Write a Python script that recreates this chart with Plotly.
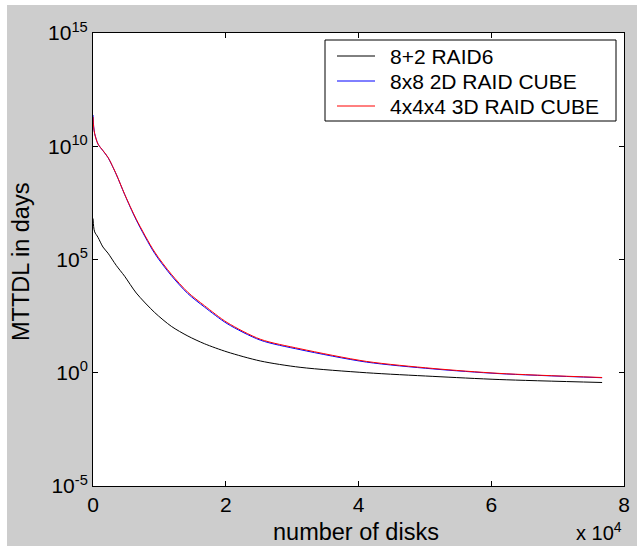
import plotly.graph_objects as go

# ---- data ----
num_disks = [0, 100, 250, 750, 1500, 2260, 3500, 4770, 6520, 9290, 11800, 14300,
             16800, 20200, 25200, 31200, 41200, 51200, 61300, 76700]

# log10 of MTTDL in days
raid6_log = [6.81, 6.45, 6.22, 5.98, 5.55, 5.28, 4.74, 4.26, 3.52, 2.66, 2.05, 1.62,
             1.28, 0.92, 0.52, 0.24, 0.00, -0.16, -0.30, -0.43]
cube2d_log = [11.38, 10.88, 10.56, 10.10, 9.80, 9.50, 8.76, 7.87, 6.74, 5.27, 4.29, 3.49,
              2.90, 2.17, 1.44, 1.02, 0.47, 0.17, -0.04, -0.22]
cube3d_log = [11.29, 10.84, 10.55, 10.10, 9.81, 9.51, 8.77, 7.88, 6.78, 5.33, 4.35, 3.55,
              2.96, 2.22, 1.48, 1.06, 0.50, 0.19, -0.03, -0.21]

series_names = ["8+2 RAID6", "8x8 2D RAID CUBE", "4x4x4 3D RAID CUBE"]
series_colors = ["#000000", "#0000ff", "#ff0000"]

x_tickvals = [0, 20000, 40000, 60000, 80000]
x_ticktext = ["0", "2", "4", "6", "8"]
y_tickvals = [1e-5, 1e0, 1e5, 1e10, 1e15]
y_ticktext = ["10<sup>-5</sup>", "10<sup>0</sup>", "10<sup>5</sup>",
              "10<sup>10</sup>", "10<sup>15</sup>"]

FONT = "Liberation Sans, Arial, sans-serif"

fig = go.Figure()
for name, color, logs in zip(series_names, series_colors, [raid6_log, cube2d_log, cube3d_log]):
    fig.add_trace(go.Scatter(
        x=num_disks, y=[10 ** v for v in logs], mode="lines", name=name,
        line=dict(color=color, width=1, shape="spline", smoothing=0.8),
        showlegend=False,
    ))

W, H = 637, 546
L, R, T, B = 93, 13, 33, 60
pw, ph = W - L - R, H - T - B


def px_x(p):
    return (p - L) / pw


def px_y(p):
    return (H - B - p) / ph


axis_common = dict(
    showgrid=False, zeroline=False, showline=True, linecolor="black", linewidth=1,
    mirror="ticks", ticks="inside", ticklen=5, tickcolor="black", tickwidth=1,
    automargin=False,
    tickfont=dict(family=FONT, size=21, color="black"),
)

fig.update_layout(
    template="none",
    width=W, height=H,
    margin=dict(l=L, r=R, t=T, b=B, autoexpand=False),
    paper_bgcolor="#cdcdcd",
    plot_bgcolor="white",
    font=dict(family=FONT, color="black"),
    xaxis=dict(range=[0, 80000], tickmode="array", tickvals=x_tickvals,
               ticktext=x_ticktext, **axis_common),
    yaxis=dict(type="log", range=[-5, 15], tickmode="array", tickvals=y_tickvals,
               ticktext=y_ticktext, **axis_common),
    showlegend=False,
)

# ---- legend box (drawn in MATLAB style) ----
fig.add_shape(type="rect", xref="paper", yref="paper", layer="above",
              x0=px_x(325), x1=px_x(616), y0=px_y(121), y1=px_y(40),
              fillcolor="white", line=dict(color="black", width=1))
for i, (name, color) in enumerate(zip(series_names, series_colors)):
    yc = 56 + 25 * i
    fig.add_shape(type="line", xref="paper", yref="paper", layer="above",
                  x0=px_x(337), x1=px_x(375), y0=px_y(yc), y1=px_y(yc),
                  line=dict(color=color, width=1))
    fig.add_annotation(text=name, xref="paper", yref="paper",
                       x=px_x(388), y=px_y(yc), xanchor="left", yanchor="middle",
                       showarrow=False, font=dict(family=FONT, size=21, color="black"))

fig.add_annotation(text="number of disks", xref="paper", yref="paper",
                   x=px_x(356), y=px_y(532), xanchor="center", yanchor="middle",
                   showarrow=False, font=dict(family=FONT, size=23.5, color="black"))
fig.add_annotation(text="MTTDL in days", xref="paper", yref="paper",
                   x=px_x(21), y=px_y(262), xanchor="center", yanchor="middle",
                   textangle=-90, showarrow=False,
                   font=dict(family=FONT, size=23.5, color="black"))
fig.add_annotation(text="x 10<sup>4</sup>", xref="paper", yref="paper",
                   x=px_x(624), y=px_y(531), xanchor="right", yanchor="middle",
                   showarrow=False, font=dict(family=FONT, size=20, color="black"))

# thin white border of the original picture (left and top edges)
fig.add_shape(type="rect", xref="paper", yref="paper", layer="above",
              x0=px_x(0), x1=px_x(7), y0=px_y(H), y1=px_y(0),
              fillcolor="white", line=dict(width=0))
fig.add_shape(type="rect", xref="paper", yref="paper", layer="above",
              x0=px_x(0), x1=px_x(W), y0=px_y(5), y1=px_y(0),
              fillcolor="white", line=dict(width=0))

fig.write_html("out.html", config={"displayModeBar": False},
               post_script="document.body.style.margin='0';")
